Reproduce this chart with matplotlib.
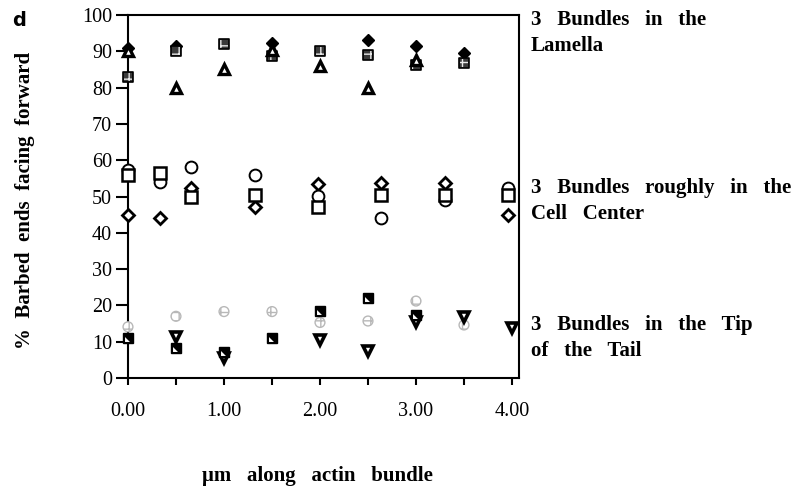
#=================Data=========================================
# Lamella group (x in um)
x_lam_dia =[0.0,0.5,1.5,2.5,3.0,3.5]
y_lam_dia =[91,91.5,92.2,93.1,91.5,89.4]
x_lam_tri =[0.0,0.5,1.0,1.5,2.0,2.5,3.0]
y_lam_tri =[90,80,85,90.4,86,80,87.6]
x_lam_sq  =[0.0,0.5,1.0,1.5,2.0,2.5,3.0,3.5]
y_lam_sq  =[83,90,92,88.7,90,89,86.2,86.7]
# Cell center group
x_mid     =[0.0,0.33,0.66,1.32,1.98,2.64,3.30,3.96]
y_mid_sq  =[56,56.4,50,50.4,47,50.4,50.3,50.4]
y_mid_circ=[57.3,54,58,56,50.2,44,49,52.3]
y_mid_dia =[45,44,52.3,47,53.4,53.6,53.6,45]
# Tip of the tail group
x_tip_gray=[0.0,0.5,1.0,1.5,2.0,2.5,3.0,3.5]
y_tip_gray=[14.1,17,18.3,18.3,15.3,15.7,21.2,14.6]
x_tip_sq  =[0.0,0.5,1.0,1.5,2.0,2.5,3.0]
y_tip_sq  =[10.9,8.4,7.3,10.9,18.4,22.1,17.4]
x_tip_tri =[0.5,1.0,2.0,2.5,3.0,3.5,4.0]
y_tip_tri =[11.4,5.6,10.5,7.4,15.3,16.9,13.7]

xticks =[0,1,2,3,4]
xticklabels=['0.00','1.00','2.00','3.00','4.00']
yticks =list(range(0,101,10))
group_labels=['3   Bundles   in   the\nLamella','3   Bundles   roughly   in   the\nCell   Center','3   Bundles   in   the   Tip\nof   the   Tail']

#====================Loading Packages==============================
import numpy as np
import matplotlib as mpl
mpl.use('Agg')
import matplotlib.pyplot as plt
mpl.rcParams['font.family'] = "Liberation Serif"
mpl.rcParams['axes.linewidth'] = 1.5
mpl.rcParams['hatch.linewidth'] = 1.0

W,H=805,491
fig=plt.figure(figsize=(W/100,H/100),dpi=100)
ax=fig.add_axes([127.5/W,1-378/H,(519-127.5)/W,(378-15)/H])
kw=dict(ls='none',clip_on=False)

#=================Plotting============================
# Lamella
ax.plot(x_lam_dia,y_lam_dia,'D',ms=6.5,mfc='k',mec='k',mew=1,zorder=3,**kw)
ax.plot(x_lam_tri,y_lam_tri,'^',ms=6.5,mfc='w',mec='k',mew=2.4,zorder=4,**kw)
ax.scatter(x_lam_sq,y_lam_sq,marker='s',s=50,facecolor='#3a3a3a',edgecolor='k',linewidths=1.2,zorder=3,clip_on=False)
ax.scatter(x_lam_sq,y_lam_sq,marker='s',s=30,facecolor='none',edgecolor='#e8e8e8',hatch='++',linewidths=0,zorder=3,clip_on=False)
# Cell center
ax.plot(x_mid,y_mid_dia,'D',ms=6.2,mfc='w',mec='k',mew=2.0,zorder=3,**kw)
ax.plot(x_mid,y_mid_circ,'o',ms=8.5,mfc='w',mec='k',mew=1.4,zorder=3,**kw)
ax.plot(x_mid,y_mid_sq,'s',ms=8.5,mfc='w',mec='k',mew=1.8,zorder=3,**kw)
# Tip of the tail
ax.scatter(x_tip_gray,y_tip_gray,marker='o',s=50,facecolor='w',edgecolor='#b8b8b8',hatch='++',linewidths=1.0,zorder=3,clip_on=False)
ax.plot(x_tip_tri,y_tip_tri,'v',ms=7,mfc='w',mec='k',mew=2.6,zorder=4,**kw)
ax.plot(x_tip_sq,y_tip_sq,'s',ms=7.5,mfc='k',mec='k',mew=1,zorder=4,**kw)
notch=[(-0.6,-0.6),(0.25,-0.6),(-0.6,0.25)] # white corner inside the black squares
ax.plot(x_tip_sq,y_tip_sq,marker=notch,ms=5,mfc='w',mec='w',mew=0,zorder=5,**kw)

#=================Axes settings============================
ax.set_xlim(-0.005,4.073)
ax.set_ylim(0,100)
ax.set_xticks(xticks)
ax.set_xticklabels(xticklabels)
ax.set_xticks(np.arange(0.5,4,1.0),minor=True)
ax.set_yticks(yticks)
ax.tick_params(axis='y',direction='out',length=9,width=1.5,labelsize=14.5,pad=2)
ax.tick_params(axis='x',which='both',direction='out',length=5,width=1.5,labelsize=14.5,pad=12)

#=================Texts============================
def px(x,y):
    return x/W,1-y/H
fig.text(*px(19,20),'d',family='DejaVu Sans',weight='bold',fontsize=14,ha='center',va='center')
fig.text(*px(25,200),'%  Barbed  ends  facing  forward',weight='bold',fontsize=15,rotation=90,ha='center',va='center')
fig.text(*px(317,476),'\u03bcm   along   actin   bundle',weight='bold',fontsize=15,ha='center',va='center')
for lab,yy in zip(group_labels,[33,201,338]):
    fig.text(*px(531,yy),lab,weight='bold',fontsize=15,ha='left',va='center',linespacing=1.35)

#===================Save===============================
fig.savefig('out.png',dpi=100)
